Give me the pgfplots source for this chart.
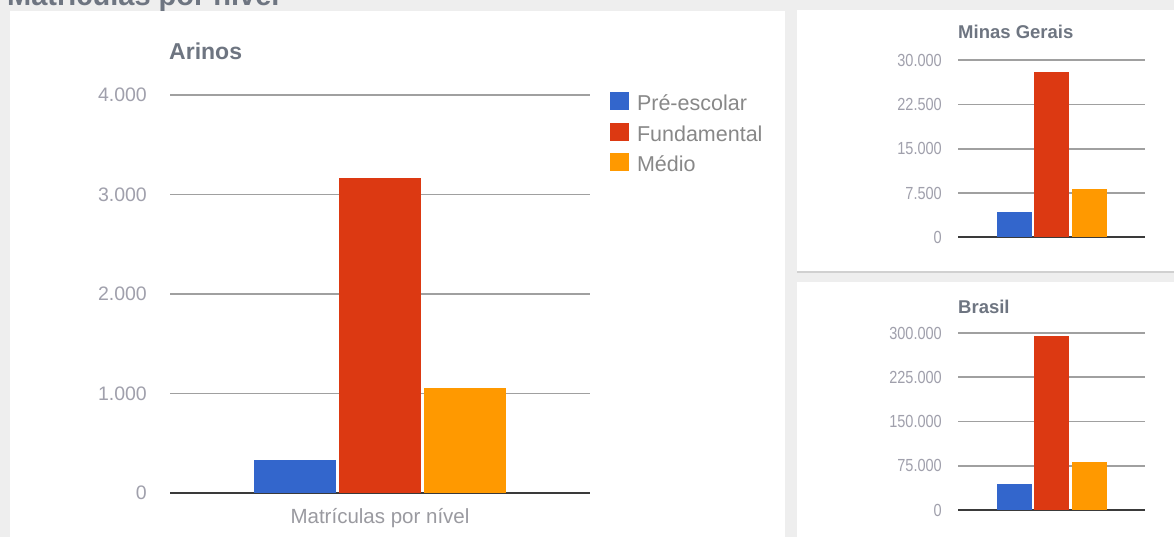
\documentclass[border=0pt]{standalone}
\usepackage{fontspec}
\setmainfont{Liberation Sans}
\newfontfamily\narrowfont[FakeStretch=0.83]{Liberation Sans}
\usepackage{pgfplots}
\pgfplotsset{compat=1.18}
\definecolor{gbg}{HTML}{EEEEEE}
\definecolor{gline}{HTML}{D0D0D0}
\definecolor{gblue}{HTML}{3366CC}
\definecolor{gred}{HTML}{DC3912}
\definecolor{gorange}{HTML}{FF9900}
\definecolor{gtitle}{HTML}{6E7581}
\definecolor{gtick}{HTML}{A0A0AC}
\definecolor{glegend}{HTML}{888888}
\definecolor{gxlab}{HTML}{9A9AA0}
\definecolor{ggrid}{HTML}{A0A0A0}
\definecolor{gzero}{HTML}{3A3A3A}
\pgfplotsset{
  gbase/.style={
    scale only axis, anchor=south west,
    axis line style={draw=none},
    major tick length=0pt,
    xtick=\empty,
    ymajorgrids,
    grid style={draw=ggrid, line width=1.8pt},
    extra y ticks={0},
    extra y tick style={grid style={draw=gzero, line width=2.2pt}},
    scaled y ticks=false,
    /pgf/number format/fixed,
    /pgf/number format/1000 sep={.},
    /pgf/number format/assume math mode=true,
    yticklabel style={anchor=east, inner sep=0pt, text=gtick},
    xmin=-1, xmax=1, ymin=0,
    clip=false,
  },
  sq/.style={legend image code/.code={\fill[##1] (0pt,-5pt) rectangle (19pt,13pt);}},
}
\begin{document}
\begin{tikzpicture}[x=1pt,y=1pt]
\useasboundingbox (0,0) rectangle (1174,537);
\clip (0,0) rectangle (1174,537);
\fill[gbg] (0,0) rectangle (1174,537);
% panels
\fill[white] (10,0) rectangle (785,526);
\fill[white] (797,266.3) rectangle (1174,527);
\fill[gline] (797,263.7) rectangle (1174,266.3);
\fill[white] (797,0) rectangle (1174,254.5);
% titles
\node[anchor=base west, inner sep=0pt, text=gtitle, font=\fontsize{29}{30}\selectfont\bfseries] at (7,531) {Matrículas por nível};
\node[anchor=base west, inner sep=0pt, text=gtitle, font=\fontsize{23}{24}\selectfont\bfseries] at (169,477) {Arinos};
\node[anchor=base west, inner sep=0pt, text=gtitle, font=\fontsize{18.5}{19}\selectfont\bfseries] at (958,498) {Minas Gerais};
\node[anchor=base west, inner sep=0pt, text=gtitle, font=\fontsize{18.5}{19}\selectfont\bfseries] at (958,223.7) {Brasil};

% main chart
\begin{axis}[gbase,
  at={(170pt,44pt)}, width=420pt, height=398pt,
  ymax=4000, ytick={1000,2000,3000,4000},
  ybar=3pt, bar width=82pt,
  yticklabel style={font=\fontsize{19.5}{20}\selectfont, xshift=-23pt},
  xlabel={Matrículas por nível},
  xlabel style={at={(axis description cs:0.5,0)}, anchor=base, yshift=-31pt,
    inner sep=0pt, text=gxlab, font=\fontsize{20.5}{21}\selectfont},
  legend style={at={(1.0476,1.0065)}, anchor=north west, draw=none, fill=none,
    inner sep=0pt, outer sep=0pt, row sep=8pt, column sep=8pt,
    font=\fontsize{21.5}{22}\selectfont, text=glegend,
    nodes={inner sep=0pt, text height=15pt, text depth=4pt}},
  legend cell align=left,
]
\addplot[fill=gblue, draw=none, sq] coordinates {(0,332)};
\addplot[fill=gred, draw=none, sq] coordinates {(0,3166)};
\addplot[fill=gorange, draw=none, sq] coordinates {(0,1055)};
\legend{Pré-escolar, Fundamental, Médio}
\end{axis}

% Minas Gerais
\begin{axis}[gbase,
  at={(958pt,299.7pt)}, width=187pt, height=177pt,
  ymax=30000, ytick={7500,15000,22500,30000},
  ybar=2.5pt, bar width=35pt,
  yticklabel style={font=\fontsize{17.5}{18}\selectfont\narrowfont, xshift=-16pt},
]
\addplot[fill=gblue, draw=none] coordinates {(0,4237)};
\addplot[fill=gred, draw=none] coordinates {(0,27966)};
\addplot[fill=gorange, draw=none] coordinates {(0,8186)};
\end{axis}

% Brasil
\begin{axis}[gbase,
  at={(958pt,27pt)}, width=187pt, height=177pt,
  ymax=300000, ytick={75000,150000,225000,300000},
  ybar=2.5pt, bar width=35pt,
  yticklabel style={font=\fontsize{17.5}{18}\selectfont\narrowfont, xshift=-16pt},
]
\addplot[fill=gblue, draw=none] coordinates {(0,44068)};
\addplot[fill=gred, draw=none] coordinates {(0,295424)};
\addplot[fill=gorange, draw=none] coordinates {(0,80800)};
\end{axis}
\end{tikzpicture}
\end{document}
